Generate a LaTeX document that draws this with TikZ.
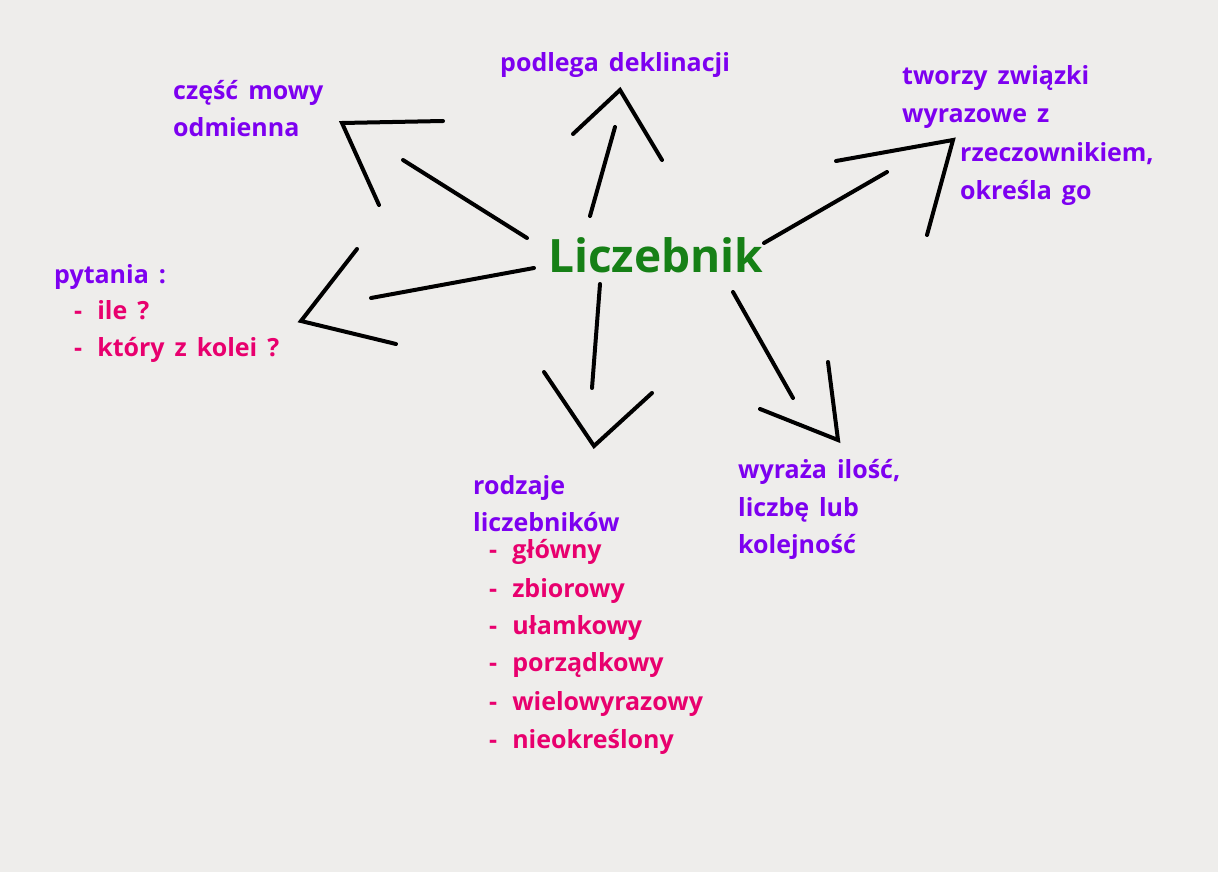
\documentclass[tikz,border=0pt]{standalone}
\usepackage{fontspec}
\setmainfont{Open Sans}
\usetikzlibrary{positioning}

\definecolor{paper}{RGB}{238,237,235}
\definecolor{labviolet}{RGB}{125,0,240}
\definecolor{itempink}{RGB}{232,0,110}
\definecolor{hubgreen}{RGB}{22,128,22}
\newcommand{\lstdash}{-\hspace{15pt}}

\tikzset{
    lab/.style={text=labviolet, font={\fontsize{25}{30}\selectfont\bfseries\spaceskip=10pt plus 2pt\relax}, anchor=base west, inner sep=0pt},
    item/.style={lab, text=itempink},
    hub/.style={text=hubgreen, font=\fontsize{46}{54}\selectfont\bfseries, anchor=base west, inner sep=0pt},
    pen/.style={line width=4pt, line cap=round, black}
}

\begin{document}
\begin{tikzpicture}[x=1pt, y=-1pt]
    \fill[paper] (0,0) rectangle (1218,872);
    \useasboundingbox (0,0) rectangle (1218,872);
    % centre %
    \node[hub] (licz) at (548,272) {Liczebnik};
    % labels %
    \node[lab] (czesc1) at (173,100) {część mowy};
    \node[lab] (czesc2) at (173,137) {odmienna};
    \node[lab] (podlega) at (500,72) {podlega deklinacji};
    \node[lab] (tworzy1) at (902,85) {tworzy związki};
    \node[lab] (tworzy2) at (902,123) {wyrazowe z};
    \node[lab] (tworzy3) at (960,161) {rzeczownikiem,};
    \node[lab] (tworzy4) at (960,199) {określa go};
    \node[lab] (pyt) at (54,283) {pytania :};
    \node[item] (ile) at (74,319) {\lstdash ile ?};
    \node[item] (ktory) at (74,356) {\lstdash który z kolei ?};
    \node[lab] (wyr1) at (738,478) {wyraża ilość,};
    \node[lab] (wyr2) at (738,516) {liczbę lub};
    \node[lab] (wyr3) at (738,553) {kolejność};
    \node[lab] (rodz1) at (473,494) {rodzaje};
    \node[lab] (rodz2) at (473,531) {liczebników};
    \node[item] (glowny) at (489,558) {\lstdash główny};
    \node[item] (zbior) at (489,597) {\lstdash zbiorowy};
    \node[item] (ulam) at (489,634) {\lstdash ułamkowy};
    \node[item] (porz) at (489,671) {\lstdash porządkowy};
    \node[item] (wielo) at (489,710) {\lstdash wielowyrazowy};
    \node[item] (nieok) at (489,748) {\lstdash nieokreślony};
    % arrow points %
    \coordinate (czA) at (527,238); \coordinate (czB) at (403,160);
    \coordinate (czT) at (342,123); \coordinate (czL) at (443,121); \coordinate (czR) at (379,205);
    \coordinate (poA) at (590,216); \coordinate (poB) at (615,127);
    \coordinate (poT) at (620,90); \coordinate (poL) at (573,134); \coordinate (poR) at (662,160);
    \coordinate (twA) at (764,243); \coordinate (twB) at (887,172);
    \coordinate (twT) at (953,140); \coordinate (twL) at (836,161); \coordinate (twR) at (927,235);
    \coordinate (pyA) at (534,268); \coordinate (pyB) at (371,298);
    \coordinate (pyT) at (301,321); \coordinate (pyL) at (357,249); \coordinate (pyR) at (396,344);
    \coordinate (roA) at (600,284); \coordinate (roB) at (592,388);
    \coordinate (roT) at (594,446); \coordinate (roL) at (544,372); \coordinate (roR) at (652,393);
    \coordinate (wyA) at (733,292); \coordinate (wyB) at (793,398);
    \coordinate (wyT) at (838,440); \coordinate (wyL) at (760,409); \coordinate (wyR) at (828,362);
    % edges %
    \draw[pen] (czA) -- (czB);
    \draw[pen] (czL) -- (czT) -- (czR);
    \draw[pen] (poA) -- (poB);
    \draw[pen] (poL) -- (poT) -- (poR);
    \draw[pen] (twA) -- (twB);
    \draw[pen] (twL) -- (twT) -- (twR);
    \draw[pen] (pyA) -- (pyB);
    \draw[pen] (pyL) -- (pyT) -- (pyR);
    \draw[pen] (roA) -- (roB);
    \draw[pen] (roL) -- (roT) -- (roR);
    \draw[pen] (wyA) -- (wyB);
    \draw[pen] (wyL) -- (wyT) -- (wyR);
\end{tikzpicture}
\end{document}
